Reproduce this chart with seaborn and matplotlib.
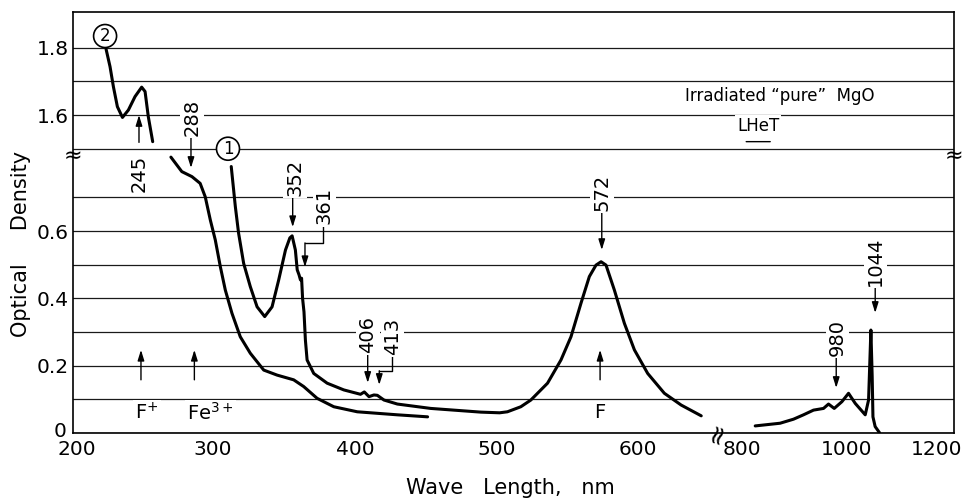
import numpy as np
import pandas as pd
import matplotlib
matplotlib.use("Agg")
import matplotlib.pyplot as plt
import matplotlib.transforms as mtransforms
import seaborn as sns

# curve 2, part drawn above the optical-density break (1.5 - 1.9)
c2_top_wl = [223.4, 226.2, 228.6, 231.4, 235.0, 239.2, 243.9, 248.6, 251.0, 253.3, 256.4]
c2_top_od = [1.796, 1.744, 1.684, 1.625, 1.593, 1.615, 1.655, 1.683, 1.670, 1.595, 1.521]

# curve 2, continued below the break
c2_low_wl = [269.3, 277.0, 284.2, 290.0, 293.6, 297.2, 300.7, 304.3, 307.8, 312.5, 318.4,
             325.5, 335.0, 344.5, 356.2, 363.3, 372.8, 384.6, 401.2, 429.6, 451.0]
c2_low_od = [0.820, 0.777, 0.762, 0.742, 0.702, 0.633, 0.574, 0.494, 0.425, 0.356, 0.286,
             0.237, 0.187, 0.172, 0.158, 0.138, 0.103, 0.078, 0.063, 0.054, 0.048]

# curve 1, UV / visible part
c1_wl = [312.0, 314.9, 317.2, 320.8, 325.5, 330.3, 335.7, 340.9, 345.6, 350.4, 353.5, 355.1,
         357.4, 358.7, 360.0, 361.0, 361.8, 362.5, 363.5, 364.5, 365.7, 370.4, 379.9, 391.7,
         403.5, 406.2, 409.5, 413.0, 415.4, 420.1, 429.6, 453.2, 488.7, 502.0, 507.5, 517.0,
         524.1, 535.9, 545.4, 552.5, 559.6, 565.5, 570.2, 573.8, 577.3, 583.2, 590.3, 597.4,
         606.8, 618.6, 630.5, 644.7]
c1_od = [0.792, 0.673, 0.594, 0.504, 0.435, 0.375, 0.346, 0.375, 0.455, 0.544, 0.580, 0.586,
         0.544, 0.485, 0.470, 0.455, 0.460, 0.400, 0.360, 0.276, 0.217, 0.177, 0.148, 0.128,
         0.115, 0.122, 0.108, 0.113, 0.112, 0.098, 0.086, 0.073, 0.062, 0.060, 0.063, 0.078,
         0.098, 0.148, 0.217, 0.286, 0.386, 0.465, 0.499, 0.509, 0.499, 0.425, 0.326, 0.247,
         0.177, 0.118, 0.083, 0.051]

# curve 1, near infrared part (after the wavelength break)
nir_wl = [838.9, 885.0, 909.8, 928.3, 946.9, 965.4, 974.6, 985.2, 999.4, 1011.7, 1024.1,
          1042.6, 1048.8, 1053.1, 1055.5, 1056.9, 1061.0, 1069.0]
nir_od = [0.021, 0.029, 0.041, 0.054, 0.068, 0.073, 0.086, 0.073, 0.093, 0.118, 0.088,
          0.054, 0.098, 0.306, 0.167, 0.048, 0.019, 0.001]

# peak labels: text position and arrow tip
peak_labels = ["245", "288", "352", "361", "406", "413", "572", "980", "1044"]
peak_text_x = [246.7, 284.2, 357.2, 378.0, 408.8, 426.2, 574.5, 990.7, 1061.1]
peak_text_y = [0.773, 1.594, 0.761, 0.675, 0.294, 0.288, 0.716, 0.285, 0.511]
peak_tip_x = [246.7, 283.5, 355.5, 364.2, 408.6, 416.8, 574.3, 988.9, 1061.1]
peak_tip_y = [1.600, 0.788, 0.612, 0.493, 0.149, 0.143, 0.544, 0.134, 0.357]
# elbow leaders: (leader x under the text, y of the horizontal step), None = straight
peak_elbow = [None, None, None, (376.9, 0.565), None, (425.5, 0.185), None, None, None]

# centre labels with small upward arrows
band_labels = ["F$^{+}$", "Fe$^{3+}$", "F"]
band_label_x = [243.9, 280.8, 573.1]
band_arrow_x = [248.1, 285.9, 573.1]

x_ticks = [200, 300, 400, 500, 600, 800, 1000, 1200]
x_minor = [250, 350, 450, 550]
y_ticks = [0, 0.2, 0.4, 0.6, 1.6, 1.8]
y_tick_labels = ["0", "0.2", "0.4", "0.6", "1.6", "1.8"]
y_minor = [0.1, 0.3, 0.5, 0.7, 1.5, 1.7]

# broken axes, done as piecewise scales
X_CUT, X_RESUME, X_K = 656.0, 768.5, 0.3823
Y_CUT, Y_RESUME = 0.845, 1.5


def x_fwd(x):
    x = np.asarray(x, float)
    return np.where(x <= X_CUT, x,
                    np.where(x >= X_RESUME, X_CUT + (x - X_RESUME) * X_K, X_CUT))


def x_inv(p):
    p = np.asarray(p, float)
    return np.where(p <= X_CUT, p, X_RESUME + (p - X_CUT) / X_K)


def y_fwd(y):
    y = np.asarray(y, float)
    return np.where(y <= Y_CUT, y,
                    np.where(y >= Y_RESUME, Y_CUT + (y - Y_RESUME), Y_CUT))


def y_inv(p):
    p = np.asarray(p, float)
    return np.where(p <= Y_CUT, p, Y_RESUME + (p - Y_CUT))


sns.set_theme(style="white", rc={
    "axes.edgecolor": "black", "text.color": "black", "axes.labelcolor": "black",
    "xtick.color": "black", "ytick.color": "black",
})
plt.rcParams["font.family"] = ["DejaVu Sans"]

segments = [("c2_top", c2_top_wl, c2_top_od), ("c2_low", c2_low_wl, c2_low_od),
            ("c1", c1_wl, c1_od), ("nir", nir_wl, nir_od)]
df = pd.concat([pd.DataFrame({"wl": w, "od": o, "segment": name}) for name, w, o in segments],
               ignore_index=True)

fig = plt.figure(figsize=(9.71, 4.99), dpi=100)
ax = fig.add_axes([0.0752, 0.1323, 0.9073, 0.8427])

sns.lineplot(data=df, x="wl", y="od", units="segment", estimator=None, sort=False,
             color="black", linewidth=2.2, ax=ax, legend=False)

ax.set_xscale("function", functions=(x_fwd, x_inv))
ax.set_yscale("function", functions=(y_fwd, y_inv))
ax.set_xlim(200, 1207)
ax.set_ylim(0, 1.905)

ax.set_xticks(x_ticks)
ax.set_xticklabels([str(t) for t in x_ticks])
ax.set_xticks(x_minor, minor=True)
ax.set_yticks(y_ticks)
ax.set_yticklabels(y_tick_labels)
ax.set_yticks(y_minor, minor=True)
ax.tick_params(axis="x", which="major", direction="in", length=8, width=1, labelsize=14.5, pad=5)
ax.tick_params(axis="x", which="minor", direction="in", length=5, width=1)
ax.tick_params(axis="y", which="both", length=0, labelsize=14.5, pad=3)
ax.grid(True, axis="y", which="both", color="#1a1a1a", linewidth=0.9)
ax.grid(False, axis="x", which="both")
ax.set_axisbelow(True)
for s in ax.spines.values():
    s.set_linewidth(1.2)

# hand-lettered tick labels sit a little off their ticks
for lab, dx in zip(ax.get_xticklabels(), [4, -2, 0, 0, 0, 8, 4, -14]):
    lab.set_transform(lab.get_transform() + mtransforms.ScaledTranslation(dx / 100, 0, fig.dpi_scale_trans))
zero_lab = ax.get_yticklabels()[0]
zero_lab.set_transform(zero_lab.get_transform() + mtransforms.ScaledTranslation(-0.02, 0.03, fig.dpi_scale_trans))

ax.set_xlabel("Wave   Length,   nm", fontsize=15)
ax.xaxis.set_label_coords(0.496, -0.131)
ax.xaxis.label.set_verticalalignment("center")
ax.set_ylabel("Optical     Density", fontsize=15)
ax.yaxis.set_label_coords(-0.059, 0.449)
ax.yaxis.label.set_verticalalignment("center")

white = dict(facecolor="white", edgecolor="none", pad=1.5)
head = "-|>,head_length=0.45,head_width=0.14"

for lab, tx, ty, px, py, elbow in zip(peak_labels, peak_text_x, peak_text_y,
                                      peak_tip_x, peak_tip_y, peak_elbow):
    ax.text(tx, ty, lab, rotation=90, fontsize=14, ha="center", va="center",
            bbox=white, zorder=4)
    if elbow is None:
        start = (px, ty)
        shrink = 15 if len(lab) == 3 else 19.5
    else:
        lx, ey = elbow
        ax.plot([lx, lx, px], [ty, ey, ey], color="black", lw=1.0, zorder=3)
        start = (px, ey)
        shrink = 0
    if lab == "245":
        shrink = 22
    ax.annotate("", xy=(px, py), xytext=start,
                arrowprops=dict(arrowstyle=head, color="black", lw=1.0,
                                shrinkA=shrink, shrinkB=0, mutation_scale=14))

for lab, lx, axx in zip(band_labels, band_label_x, band_arrow_x):
    ax.text(lx, 0.06, lab, fontsize=14, ha="left" if lab != "F" else "center",
            va="center", bbox=white, zorder=4)
    ax.annotate("", xy=(axx, 0.247), xytext=(axx, 0.158),
                arrowprops=dict(arrowstyle=head, color="black", lw=1.0, shrinkA=0,
                                shrinkB=0, mutation_scale=14))

circ = dict(boxstyle="circle,pad=0.15", facecolor="white", edgecolor="black", lw=1.2)
ax.text(222.7, 1.835, "2", fontsize=12, ha="center", va="center", bbox=circ, zorder=4)
ax.text(309.7, 0.845, "1", fontsize=12, ha="center", va="center", bbox=circ, zorder=4)

ax.text(884.3, 1.657, "Irradiated \u201cpure\u201d  MgO", fontsize=12, ha="center",
        va="center", bbox=white, zorder=4)
ax.text(844.4, 1.568, "LHeT", fontsize=12, ha="center", va="center", bbox=white, zorder=4)
ax.annotate("", xy=(866.7, 1.521), xytext=(822.2, 1.521),
            arrowprops=dict(arrowstyle="-", color="black", lw=1.0, shrinkA=0, shrinkB=0))

# break marks on the spines
ax.text(0.0, 0.825, "\u2248", transform=ax.get_yaxis_transform(), fontsize=16,
        ha="center", va="center", zorder=5, clip_on=False)
ax.text(1.0, 0.825, "\u2248", transform=ax.get_yaxis_transform(), fontsize=16,
        ha="center", va="center", zorder=5, clip_on=False)
ax.text(712, 0.0, "\u2248", transform=ax.get_xaxis_transform(), fontsize=19, rotation=72,
        ha="center", va="center", zorder=5, clip_on=False)

fig.savefig("out.png", dpi=100, facecolor="white")
